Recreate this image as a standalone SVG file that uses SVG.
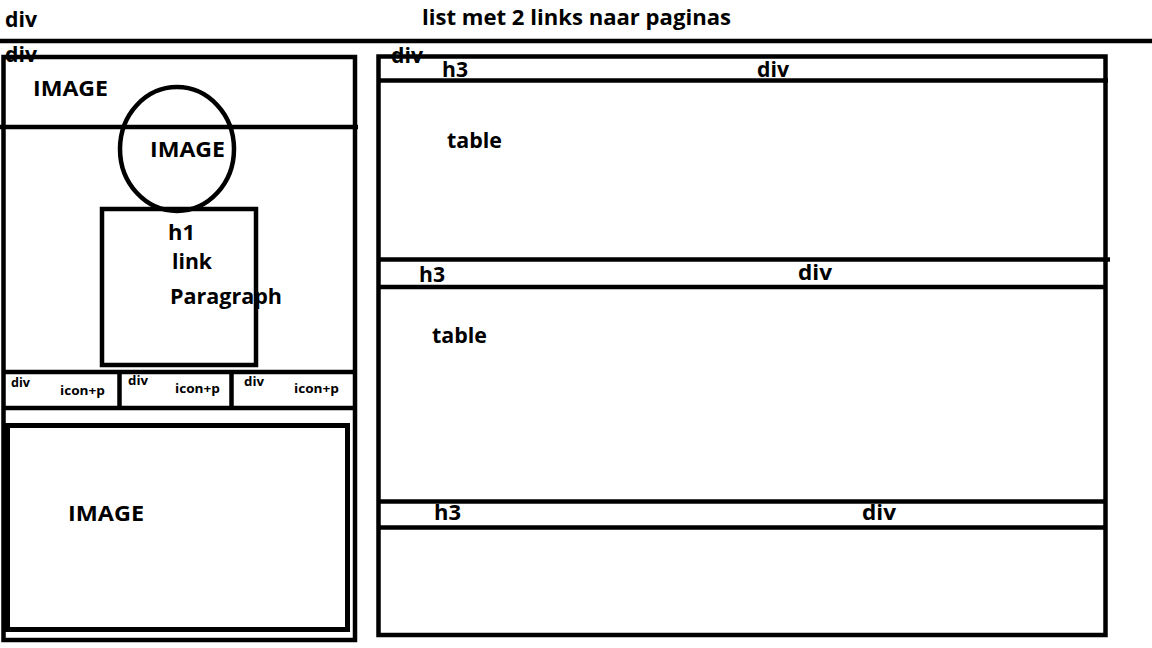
<svg xmlns="http://www.w3.org/2000/svg" width="1152" height="648" viewBox="0 0 1152 648">
<style>
.ln{stroke:#000;stroke-width:4.5;fill:none}
.t{font-family:"Open Sans","Liberation Sans",sans-serif;font-weight:bold;fill:#000;font-size:22px}
.s{font-family:"Open Sans","Liberation Sans",sans-serif;font-weight:bold;fill:#000;font-size:13px}
</style>
<rect width="1152" height="648" fill="#fff"/>
<g id="header">
<line class="ln" x1="0" y1="41" x2="1152" y2="41"/>
<text class="t" x="5" y="27" textLength="32" lengthAdjust="spacingAndGlyphs">div</text>
<text class="t" x="422" y="25" textLength="309" lengthAdjust="spacingAndGlyphs">list met 2 links naar paginas</text>
</g>
<g id="left-column">
<rect class="ln" x="3.5" y="57" width="351.5" height="583"/>
<text class="t" x="5" y="62" textLength="32" lengthAdjust="spacingAndGlyphs">div</text>
<line class="ln" x1="0" y1="127" x2="358" y2="127"/>
<text class="t" x="33" y="96" textLength="75" lengthAdjust="spacingAndGlyphs">IMAGE</text>
</g>
<g id="profile-image">
<ellipse class="ln" cx="177" cy="149" rx="57" ry="62"/>
<text class="t" x="150" y="157" textLength="75" lengthAdjust="spacingAndGlyphs">IMAGE</text>
</g>
<g id="content-box">
<rect class="ln" x="102" y="209" width="154" height="156"/>
<text class="t" x="168" y="240" textLength="27" lengthAdjust="spacingAndGlyphs">h1</text>
<text class="t" x="172" y="269" textLength="40" lengthAdjust="spacingAndGlyphs">link</text>
<text class="t" x="170" y="304" textLength="112" lengthAdjust="spacingAndGlyphs">Paragraph</text>
</g>
<g id="icon-row">
<line class="ln" x1="3.5" y1="372" x2="355" y2="372"/>
<line class="ln" x1="3.5" y1="408" x2="355" y2="408"/>
<line class="ln" x1="119.5" y1="372" x2="119.5" y2="408"/>
<line class="ln" x1="231.5" y1="372" x2="231.5" y2="408"/>
<text class="s" x="11" y="387" textLength="19" lengthAdjust="spacingAndGlyphs">div</text>
<text class="s" x="60" y="395" textLength="45" lengthAdjust="spacingAndGlyphs">icon+p</text>
<text class="s" x="128" y="385" textLength="20" lengthAdjust="spacingAndGlyphs">div</text>
<text class="s" x="175" y="393" textLength="45" lengthAdjust="spacingAndGlyphs">icon+p</text>
<text class="s" x="244" y="386" textLength="20" lengthAdjust="spacingAndGlyphs">div</text>
<text class="s" x="294" y="393" textLength="45" lengthAdjust="spacingAndGlyphs">icon+p</text>
</g>
<g id="bottom-image">
<rect class="ln" x="7.5" y="425.5" width="340" height="204" style="stroke-width:5"/>
<line x1="5" y1="424" x2="5" y2="632" stroke="#000" stroke-width="5"/>
<text class="t" x="68" y="521" textLength="76" lengthAdjust="spacingAndGlyphs">IMAGE</text>
</g>
<g id="right-column">
<rect class="ln" x="378.5" y="56.5" width="727" height="578.5"/>
<text class="t" x="391" y="63" textLength="32" lengthAdjust="spacingAndGlyphs">div</text>
</g>
<g id="section-1">
<line class="ln" x1="378" y1="80.5" x2="1108" y2="80.5"/>
<text class="t" x="442" y="77" textLength="26" lengthAdjust="spacingAndGlyphs">h3</text>
<text class="t" x="757" y="77" textLength="32" lengthAdjust="spacingAndGlyphs">div</text>
<text class="t" x="447" y="148" textLength="55" lengthAdjust="spacingAndGlyphs">table</text>
</g>
<g id="section-2">
<line class="ln" x1="378" y1="259.5" x2="1110" y2="259.5"/>
<line class="ln" x1="378" y1="287" x2="1105" y2="287"/>
<text class="t" x="419" y="282" textLength="26" lengthAdjust="spacingAndGlyphs">h3</text>
<text class="t" x="798" y="280" textLength="34" lengthAdjust="spacingAndGlyphs">div</text>
<text class="t" x="432" y="343" textLength="55" lengthAdjust="spacingAndGlyphs">table</text>
</g>
<g id="section-3">
<line class="ln" x1="378" y1="501.5" x2="1105" y2="501.5"/>
<line class="ln" x1="378" y1="527.5" x2="1105" y2="527.5"/>
<text class="t" x="434" y="520" textLength="27" lengthAdjust="spacingAndGlyphs">h3</text>
<text class="t" x="862" y="520" textLength="34" lengthAdjust="spacingAndGlyphs">div</text>
</g>
<g id="connectors"/>
</svg>
